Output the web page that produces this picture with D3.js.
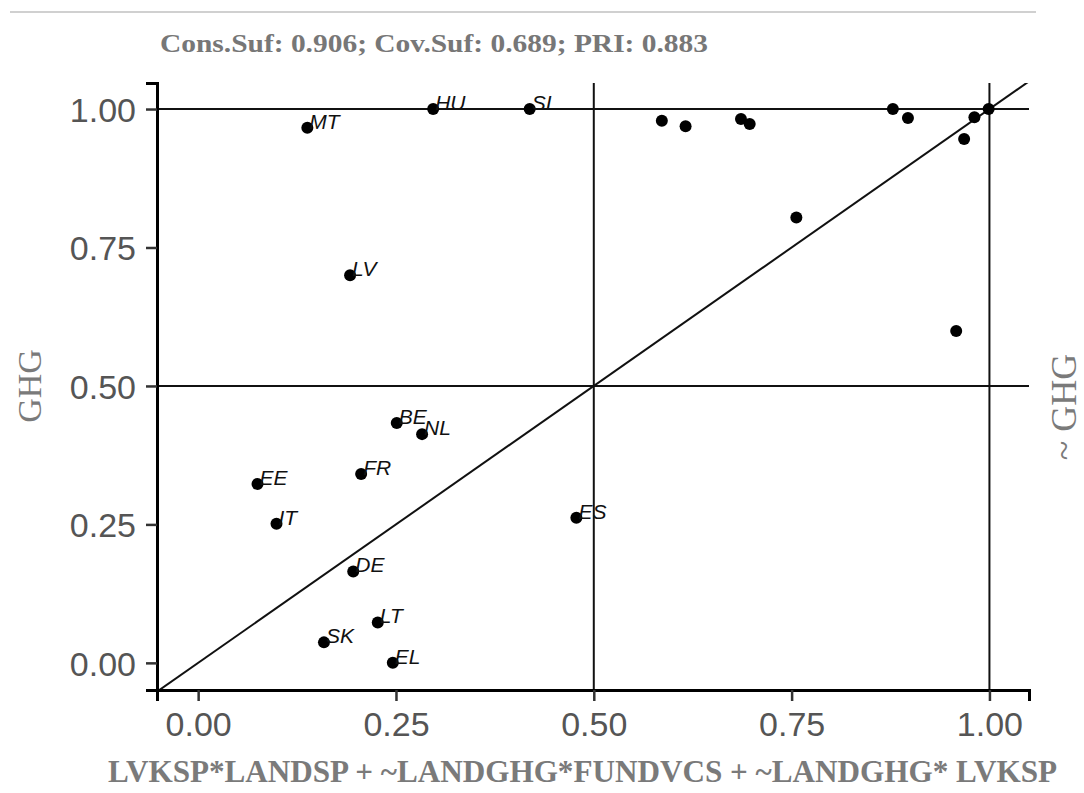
<!DOCTYPE html>
<html>
<head>
<meta charset="utf-8">
<script src="https://cdn.jsdelivr.net/npm/d3@7"></script>
<style>
  body { margin: 0; background: #fff; }
  svg { display: block; }
</style>
</head>
<body>
<svg id="chart" width="1084" height="793"></svg>
<script>
// case labels ("" = unlabeled point)
const labels = ['MT', 'HU', 'SI', 'LV', 'BE', 'NL', 'EE', 'FR', 'IT', 'ES', 'DE', 'LT', 'SK', 'EL',
  '', '', '', '', '', '', '', '', '', '', '']
// membership in the solution (x) and outcome GHG (y)
const xVals = [0.138, 0.297, 0.419, 0.192, 0.251, 0.283, 0.075, 0.206, 0.099, 0.478, 0.196, 0.227, 0.159, 0.246,
  0.586, 0.616, 0.686, 0.697, 0.756, 0.878, 0.897, 0.981, 0.968, 0.999, 0.958]
const yVals = [0.966, 1.0, 1.0, 0.700, 0.433, 0.413, 0.323, 0.341, 0.251, 0.262, 0.165, 0.073, 0.037, 0.0,
  0.979, 0.969, 0.982, 0.973, 0.804, 1.0, 0.984, 0.985, 0.946, 1.0, 0.599]
const tickVals = [0, 0.25, 0.5, 0.75, 1]
const refLines = [0.5, 1]
const titleText = 'Cons.Suf: 0.906; Cov.Suf: 0.689; PRI: 0.883'
const xTitle = 'LVKSP*LANDSP + ~LANDGHG*FUNDVCS + ~LANDGHG* LVKSP'
const yTitle = 'GHG'
const yTitleRight = '~ GHG'

const points = labels.map((l, i) => ({ label: l, x: xVals[i], y: yVals[i] }))

const svg = d3.select('#chart')

const x = d3.scaleLinear().domain([-0.052, 1.05]).range([157, 1029])
const y = d3.scaleLinear().domain([-0.049, 1.047]).range([690, 83])
const [x0, x1] = x.range()
const [y0, y1] = y.range()

// thin grey rule at the top
svg.append('line')
  .attr('x1', 10).attr('x2', 1036).attr('y1', 12).attr('y2', 12)
  .style('stroke', '#d0d0d0').style('stroke-width', 2)

// clip for the diagonal
svg.append('clipPath').attr('id', 'plotclip')
  .append('rect').attr('x', x0).attr('y', y1).attr('width', x1 - x0).attr('height', y0 - y1)

const plot = svg.append('g')

// reference lines
plot.selectAll('.hline')
  .data(refLines)
  .enter()
  .append('line')
  .attr('x1', x0).attr('x2', x1)
  .attr('y1', d => y(d)).attr('y2', d => y(d))
  .style('stroke', '#111').style('stroke-width', 2)

plot.selectAll('.vline')
  .data(refLines)
  .enter()
  .append('line')
  .attr('x1', d => x(d)).attr('x2', d => x(d))
  .attr('y1', y1).attr('y2', y0)
  .style('stroke', '#111').style('stroke-width', 2)

// diagonal y = x
plot.append('line')
  .attr('clip-path', 'url(#plotclip)')
  .attr('x1', x(-0.1)).attr('y1', y(-0.1))
  .attr('x2', x(1.1)).attr('y2', y(1.1))
  .style('stroke', '#111').style('stroke-width', 2)

// axes
const xAxis = svg.append('g')
  .attr('transform', `translate(0, ${y0})`)
  .call(d3.axisBottom(x).tickValues(tickVals).tickFormat(d3.format('.2f')).tickSizeOuter(0).tickSize(11).tickPadding(11))

const yAxis = svg.append('g')
  .attr('transform', `translate(${x0}, 0)`)
  .call(d3.axisLeft(y).tickValues(tickVals).tickFormat(d3.format('.2f')).tickSizeOuter(0).tickSize(11).tickPadding(10))

;[xAxis, yAxis].forEach(a => {
  a.select('.domain').style('stroke', '#000').style('stroke-width', 3)
  a.selectAll('.tick line').style('stroke', '#333').style('stroke-width', 2.5)
  a.selectAll('.tick text')
    .style('font-family', '"Liberation Sans", Arial, sans-serif')
    .style('font-size', '34px')
    .style('fill', '#555')
})
xAxis.selectAll('.tick text').attr('dy', '0.72em')
yAxis.selectAll('.tick text').attr('dy', '0.36em')

// points
plot.selectAll('circle')
  .data(points)
  .enter()
  .append('circle')
  .attr('cx', d => x(d.x))
  .attr('cy', d => y(d.y))
  .attr('r', 6)
  .style('fill', '#000')

// case labels
plot.selectAll('.case')
  .data(points.filter(d => d.label))
  .enter()
  .append('text')
  .attr('x', d => x(d.x) + 2)
  .attr('y', d => y(d.y) + 1)
  .text(d => d.label)
  .style('font-family', '"Liberation Sans", Arial, sans-serif')
  .style('font-style', 'italic')
  .style('font-size', '21px')
  .style('fill', '#111')

// titles
svg.append('text')
  .attr('x', 160).attr('y', 52)
  .attr('textLength', 548).attr('lengthAdjust', 'spacingAndGlyphs')
  .text(titleText)
  .style('font-family', '"Liberation Serif", "DejaVu Serif", serif')
  .style('font-weight', 'bold')
  .style('font-size', '25px')
  .style('fill', '#777')

svg.append('text')
  .attr('x', 108).attr('y', 782)
  .attr('textLength', 949).attr('lengthAdjust', 'spacingAndGlyphs')
  .text(xTitle)
  .style('font-family', '"Liberation Serif", serif')
  .style('font-weight', 'bold')
  .style('font-size', '32px')
  .style('fill', '#7a7a7a')

svg.append('text')
  .attr('transform', 'translate(41, 386) rotate(-90)')
  .attr('text-anchor', 'middle')
  .text(yTitle)
  .style('font-family', '"Liberation Serif", serif')
  .style('font-size', '34px')
  .style('fill', '#7a7a7a')

svg.append('text')
  .attr('transform', 'translate(1076, 407) rotate(-90)')
  .attr('text-anchor', 'middle')
  .text(yTitleRight)
  .style('font-family', '"Liberation Serif", serif')
  .style('font-size', '36px')
  .style('fill', '#7a7a7a')
</script>
</body>
</html>
